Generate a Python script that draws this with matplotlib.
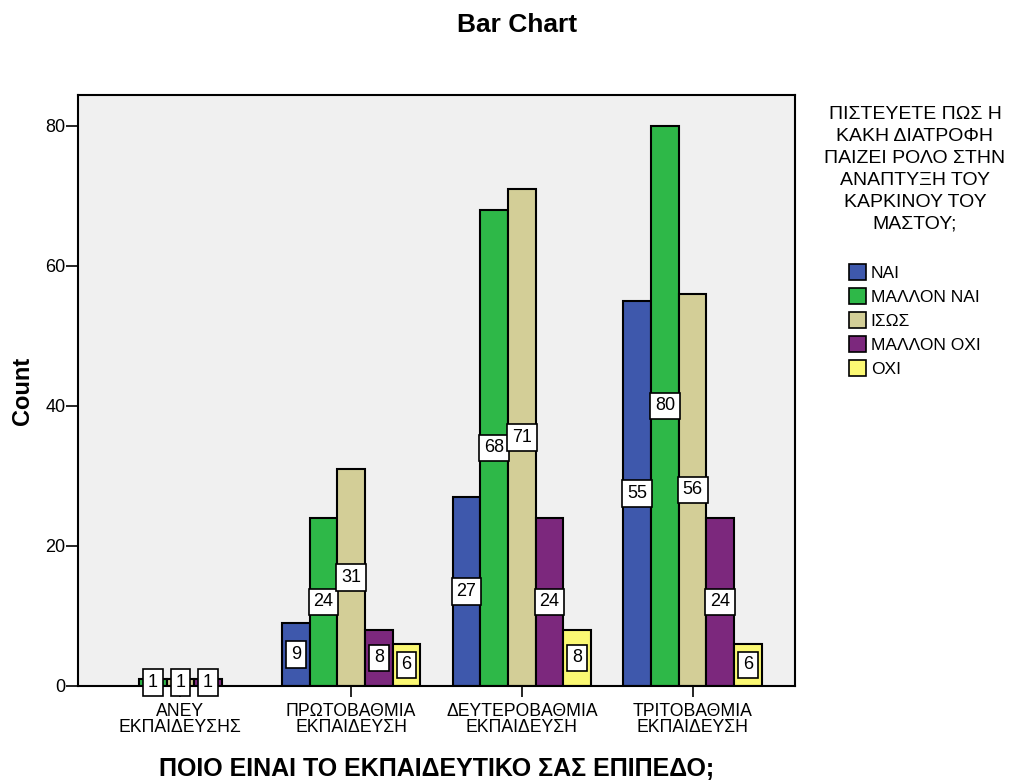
import matplotlib
matplotlib.use("Agg")
import matplotlib.pyplot as plt
from matplotlib.patches import Patch
import numpy as np

plt.rcParams['font.family'] = ['Liberation Sans', 'DejaVu Sans']

categories = ["ΑΝΕΥ\nΕΚΠΑΙΔΕΥΣΗΣ", "ΠΡΩΤΟΒΑΘΜΙΑ\nΕΚΠΑΙΔΕΥΣΗ",
              "ΔΕΥΤΕΡΟΒΑΘΜΙΑ\nΕΚΠΑΙΔΕΥΣΗ", "ΤΡΙΤΟΒΑΘΜΙΑ\nΕΚΠΑΙΔΕΥΣΗ"]
series = ["ΝΑΙ", "ΜΑΛΛΟΝ ΝΑΙ", "ΙΣΩΣ", "ΜΑΛΛΟΝ ΟΧΙ", "ΟΧΙ"]
nai = [0, 9, 27, 55]
mallon_nai = [1, 24, 68, 80]
isos = [1, 31, 71, 56]
mallon_oxi = [1, 8, 24, 24]
oxi = [0, 6, 8, 6]
colors = ["#3E58AC", "#2EB848", "#D3CE97", "#7C287D", "#FBF873"]

counts = [nai, mallon_nai, isos, mallon_oxi, oxi]

fig = plt.figure(figsize=(10.34, 7.83), dpi=100)
ax = fig.add_axes([78 / 1034, 1 - 686 / 783, (795 - 78) / 1034, (686 - 95) / 783])
ax.set_facecolor("#F0F0F0")

w = 0.162
x = np.arange(len(categories))
for k, (vals, c) in enumerate(zip(counts, colors)):
    for i, v in enumerate(vals):
        if v == 0:
            continue  # empty cells get no bar
        xpos = x[i] + (k - 2) * w
        ax.bar(xpos, v, width=w, color=c, edgecolor="black", linewidth=1.5, zorder=2)
        ax.text(xpos, v / 2, str(v), ha="center", va="center", fontsize=13, zorder=3,
                bbox=dict(boxstyle="square,pad=0.27", facecolor="white",
                          edgecolor="black", linewidth=1.2))

ax.set_xlim(-0.6, 3.6)
ax.set_ylim(0, 84.4)
ax.set_yticks([0, 20, 40, 60, 80])
ax.set_xticks(x)
ax.set_xticklabels(categories, fontsize=12.7, linespacing=0.95)
ax.tick_params(axis="y", labelsize=13, length=8.5, width=1.2, pad=0.5, direction="out")
ax.tick_params(axis="x", length=8, width=1.2, pad=4, direction="out")
for s in ax.spines.values():
    s.set_linewidth(1.5)

ax.set_ylabel("Count", fontsize=17, fontweight="bold", labelpad=8)
ax.set_xlabel("ΠΟΙΟ ΕΙΝΑΙ ΤΟ ΕΚΠΑΙΔΕΥΤΙΚΟ ΣΑΣ ΕΠΙΠΕΔΟ;", fontsize=18,
              fontweight="bold", labelpad=15)
fig.text(517 / 1034, 1 - 25 / 783, "Bar Chart", ha="center", va="center",
         fontsize=19, fontweight="bold")

# legend: title block on its own, entries below
fig.text(915 / 1034, 1 - 106 / 783,
         "ΠΙΣΤΕΥΕΤΕ ΠΩΣ Η\nΚΑΚΗ ΔΙΑΤΡΟΦΗ\nΠΑΙΖΕΙ ΡΟΛΟ ΣΤΗΝ\nΑΝΑΠΤΥΞΗ ΤΟΥ\nΚΑΡΚΙΝΟΥ ΤΟΥ\nΜΑΣΤΟΥ;",
         ha="center", va="top", fontsize=14, linespacing=1.38)
handles = [Patch(facecolor=c, edgecolor="black", linewidth=1.2) for c in colors]
fig.legend(handles, series, loc="upper left", bbox_to_anchor=(849 / 1034, 1 - 264 / 783),
           frameon=False, fontsize=12.5, handlelength=1.0, handleheight=1.0,
           handletextpad=0.25, labelspacing=0.42, borderaxespad=0, borderpad=0)

fig.savefig("out.png", dpi=100)
